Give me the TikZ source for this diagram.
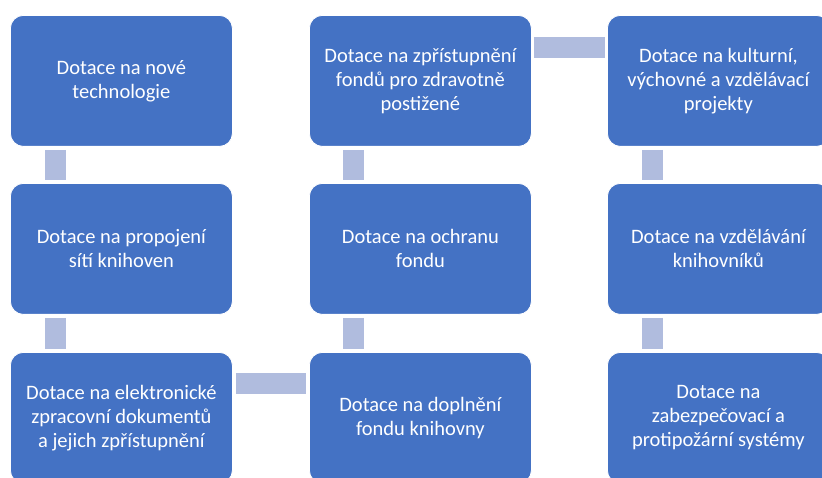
\documentclass[tikz,border=0pt]{standalone}
\usepackage{fontspec}
\setmainfont{Carlito}
\definecolor{boxblue}{HTML}{4472C4}
\definecolor{connblue}{RGB}{176,188,222}
\begin{document}
\begin{tikzpicture}[x=1pt,y=-1pt,
  box/.style={rectangle, rounded corners=13pt, fill=boxblue, draw=white, line width=0.8pt,
    minimum width=222pt, minimum height=131pt, inner sep=0pt, text=white, align=center,
    font=\fontsize{20.5}{24}\selectfont, anchor=north west},
  conn/.style={draw=connblue, line width=21pt}]
\useasboundingbox (0,0) rectangle (822,478);
\clip (0,0) rectangle (822,478);
\node[box] (a1) at (10,15) {Dotace na nové\\technologie};
\node[box] (a2) at (10,183) {Dotace na propojení\\sítí knihoven};
\node[box] (a3) at (10,352) {Dotace na elektronické\\zpracovní dokumentů\\a jejich zpřístupnění};
\node[box] (b1) at (309,15) {Dotace na zpřístupnění\\fondů pro zdravotně\\postižené};
\node[box] (b2) at (309,183) {Dotace na ochranu\\fondu};
\node[box] (b3) at (309,352) {Dotace na doplnění\\fondu knihovny};
\node[box] (c1) at (607,15) {Dotace na kulturní,\\výchovné a vzdělávací\\projekty};
\node[box] (c2) at (607,183) {Dotace na vzdělávání\\knihovníků};
\node[box] (c3) at (607,352) {Dotace na\\zabezpečovací a\\protipožární systémy};
% vertical connectors
\draw[conn] ([xshift=45.5pt,yshift=-3pt]a1.south west) -- ([xshift=45.5pt,yshift=3pt]a2.north west);
\draw[conn] ([xshift=45.5pt,yshift=-3pt]a2.south west) -- ([xshift=45.5pt,yshift=3pt]a3.north west);
\draw[conn] ([xshift=44.5pt,yshift=-3pt]b2.south west) -- ([xshift=44.5pt,yshift=3pt]b3.north west);
\draw[conn] ([xshift=44.5pt,yshift=-3pt]b1.south west) -- ([xshift=44.5pt,yshift=3pt]b2.north west);
\draw[conn] ([xshift=45.5pt,yshift=-3pt]c1.south west) -- ([xshift=45.5pt,yshift=3pt]c2.north west);
\draw[conn] ([xshift=45.5pt,yshift=-3pt]c2.south west) -- ([xshift=45.5pt,yshift=3pt]c3.north west);
% horizontal connectors
\draw[conn] ([xshift=3pt,yshift=-31.5pt]a3.north east) -- ([xshift=-3pt,yshift=-31.5pt]b3.north west);
\draw[conn] ([xshift=2pt,yshift=-32.5pt]b1.north east) -- ([xshift=-2pt,yshift=-32.5pt]c1.north west);
\end{tikzpicture}
\end{document}
